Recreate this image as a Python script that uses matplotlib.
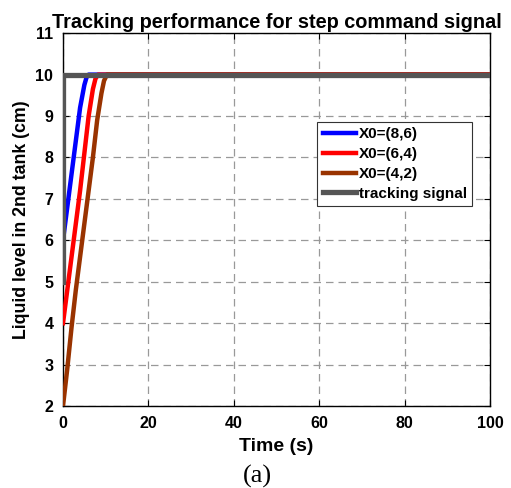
import numpy as np
import matplotlib
matplotlib.use('Agg')
import matplotlib.pyplot as plt

plt.rcParams['font.family'] = ['Liberation Sans', 'DejaVu Sans']

# responses
t_blue = [0, 1, 2, 3, 4, 5, 5.5, 6, 7, 100]
y_blue = [6, 6.8, 7.6, 8.4, 9.2, 9.75, 9.93, 10, 10, 10]
t_red = [0, 1, 2, 3, 4, 5, 6, 7, 7.6, 8.2, 9, 100]
y_red = [4, 4.8, 5.6, 6.4, 7.2, 8.1, 9.0, 9.65, 9.9, 10, 10, 10]
t_brown = [0, 1, 2, 3, 4, 5, 6, 7, 8, 9, 9.6, 10.3, 11, 100]
y_brown = [2, 2.9, 3.9, 4.8, 5.6, 6.4, 7.2, 8.0, 8.9, 9.55, 9.85, 10, 10, 10]
t_ref = [0, 0, 100]
y_ref = [5, 10, 10]

labels = ['X0=(8,6)', 'X0=(6,4)', 'X0=(4,2)', 'tracking signal']
colors = ['#0000ff', '#ff0000', '#993300', '#555555']

fig = plt.figure(figsize=(5.11, 4.88), dpi=100)
ax = fig.add_axes([0.1233, 0.168, 0.8357, 0.764])

ax.plot(t_blue, y_blue, color=colors[0], lw=3.2, label=labels[0], zorder=3)
ax.plot(t_red, y_red, color=colors[1], lw=3.2, label=labels[1], zorder=3)
ax.plot(t_brown, y_brown, color=colors[2], lw=3.2, label=labels[2], zorder=3)
ax.plot(t_ref, y_ref, color=colors[3], lw=3.8, label=labels[3], zorder=4)

ax.set_xlim(0, 100)
ax.set_ylim(2, 11)
ax.set_xticks(np.arange(0, 101, 20))
ax.set_yticks(np.arange(2, 12, 1))
ax.grid(True, linestyle=(0, (6, 4)), color='#999999', lw=0.9)
ax.tick_params(direction='in', top=True, right=True, length=4, width=0.8,
               labelsize=11.5, pad=7)
for lab in ax.get_xticklabels() + ax.get_yticklabels():
    lab.set_fontweight('bold')
for s in ax.spines.values():
    s.set_linewidth(1.0)
    s.set_color('black')

ax.set_title('Tracking performance for step command signal', fontsize=14.3,
             fontweight='bold', pad=4)
ax.set_xlabel('Time (s)', fontsize=14, fontweight='bold', labelpad=5)
ax.set_ylabel('Liquid level in 2nd tank (cm)', fontsize=12.8, fontweight='bold',
              labelpad=4)

leg = ax.legend(loc='upper right', bbox_to_anchor=(0.958, 0.762),
                prop={'weight': 'bold', 'size': 11}, handlelength=2.2,
                handletextpad=0.15, borderpad=0.35, labelspacing=0.38,
                fancybox=False, framealpha=1, borderaxespad=0)
leg.get_frame().set_edgecolor('#333333')
leg.get_frame().set_linewidth(0.8)

fig.text(0.503, 0.024, '(a)', fontsize=19, family='Liberation Serif',
         ha='center', va='center')

fig.savefig('out.png', dpi=100)
